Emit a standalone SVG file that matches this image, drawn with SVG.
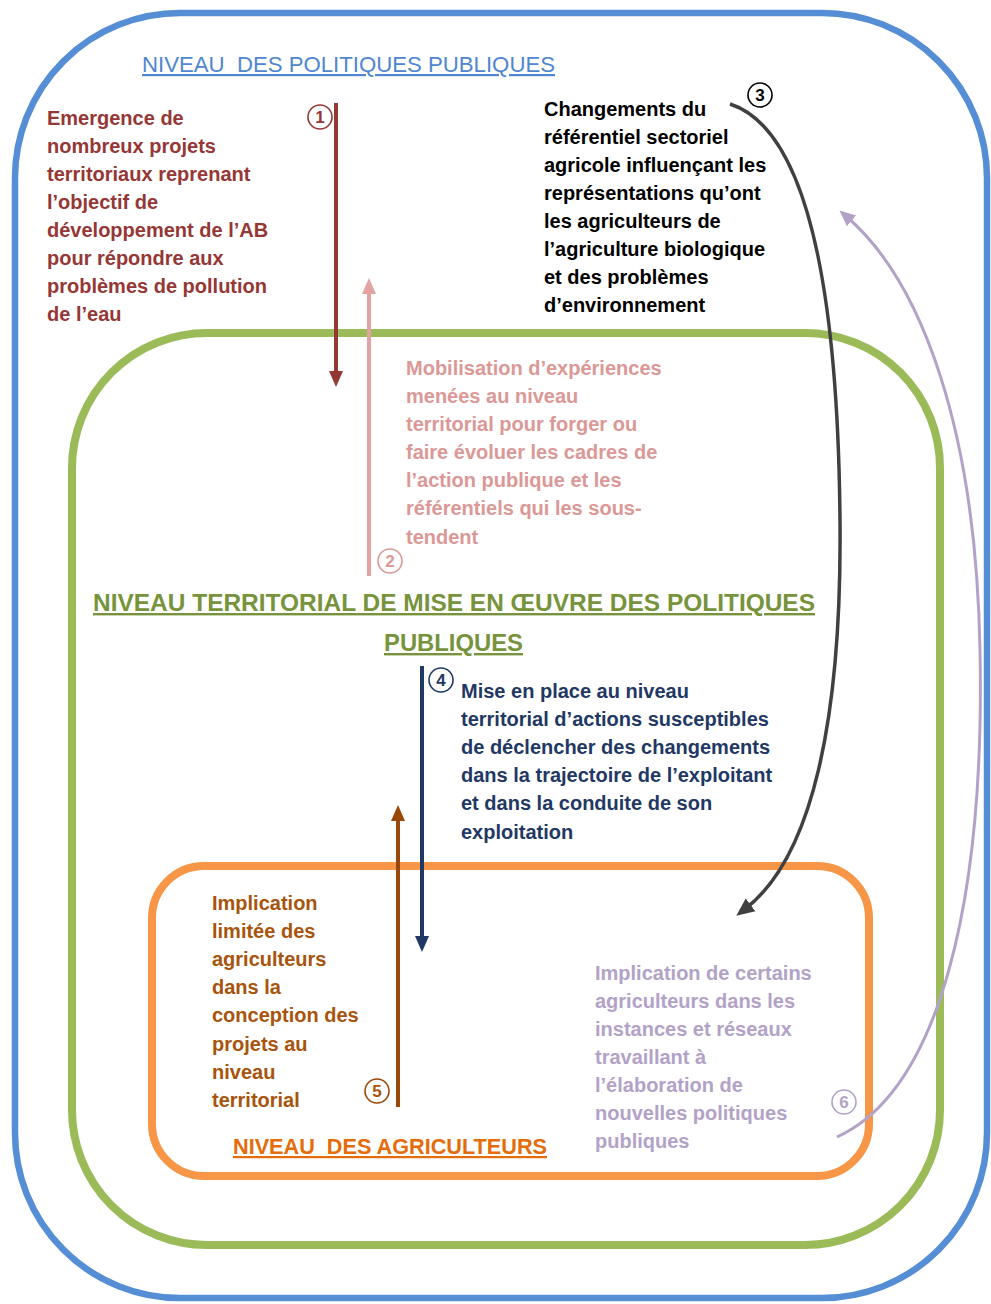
<svg xmlns="http://www.w3.org/2000/svg" width="991" height="1304" viewBox="0 0 991 1304">
<style>
text{font-family:"Liberation Sans",Arial,sans-serif;}
.b{font-weight:bold;font-size:20px;}
.h{text-decoration:underline;white-space:pre;}
.red{fill:#953735;}
.blk{fill:#000000;}
.pink{fill:#DB9896;}
.navy{fill:#1F3864;}
.brown{fill:#A8540C;}
.purple{fill:#B3A2C7;}
.num{font-weight:bold;font-size:17px;text-anchor:middle;}
.ring{fill:#ffffff;stroke-width:1.6;}
</style>
<defs>
<marker id="mRed" markerUnits="userSpaceOnUse" markerWidth="16" markerHeight="16" viewBox="0 0 16 16" refX="6" refY="8" orient="auto"><path d="M0,1 L16,8 L0,15 z" fill="#953735"/></marker>
<marker id="mPink" markerUnits="userSpaceOnUse" markerWidth="16" markerHeight="16" viewBox="0 0 16 16" refX="6" refY="8" orient="auto"><path d="M0,1 L16,8 L0,15 z" fill="#E3A3A2"/></marker>
<marker id="mNavy" markerUnits="userSpaceOnUse" markerWidth="16" markerHeight="16" viewBox="0 0 16 16" refX="6" refY="8" orient="auto"><path d="M0,1 L16,8 L0,15 z" fill="#1F3864"/></marker>
<marker id="mBrown" markerUnits="userSpaceOnUse" markerWidth="16" markerHeight="16" viewBox="0 0 16 16" refX="6" refY="8" orient="auto"><path d="M0,1 L16,8 L0,15 z" fill="#984807"/></marker>
<marker id="mBlack" markerUnits="userSpaceOnUse" markerWidth="18" markerHeight="18" viewBox="0 0 18 18" refX="7" refY="9" orient="auto"><path d="M0,1 L18,9 L0,17 z" fill="#404040"/></marker>
<marker id="mPurple" markerUnits="userSpaceOnUse" markerWidth="16" markerHeight="16" viewBox="0 0 16 16" refX="6" refY="8" orient="auto"><path d="M0,1 L16,8 L0,15 z" fill="#B3A2C7"/></marker>
</defs>
<rect width="991" height="1304" fill="#ffffff"/>

<g id="niveau-politiques">
<rect x="15" y="13" width="972" height="1285" rx="165" ry="165" fill="none" stroke="#558ED5" stroke-width="6.5"/>
<text x="142" y="72" font-size="22" fill="#4F86D0" class="h" textLength="413" lengthAdjust="spacingAndGlyphs">NIVEAU  DES POLITIQUES PUBLIQUES</text>
</g>

<g id="niveau-territorial">
<rect x="72" y="333" width="868" height="912" rx="135" ry="135" fill="none" stroke="#9BBB59" stroke-width="8"/>
<text x="93" y="611" font-size="24" font-weight="bold" fill="#77933C" class="h" textLength="722" lengthAdjust="spacingAndGlyphs">NIVEAU TERRITORIAL DE MISE EN ŒUVRE DES POLITIQUES</text>
<text x="384" y="651" font-size="24" font-weight="bold" fill="#77933C" class="h" textLength="139" lengthAdjust="spacingAndGlyphs">PUBLIQUES</text>
</g>

<g id="niveau-agriculteurs">
<rect x="152" y="866" width="717" height="310" rx="52" ry="52" fill="none" stroke="#F79646" stroke-width="8"/>
<text x="233" y="1154" font-size="22" font-weight="bold" fill="#E46C0A" class="h" textLength="314" lengthAdjust="spacingAndGlyphs">NIVEAU  DES AGRICULTEURS</text>
</g>

<g id="connectors" fill="none">
<line x1="336" y1="103" x2="336" y2="377" stroke="#953735" stroke-width="4" marker-end="url(#mRed)"/>
<line x1="369" y1="576" x2="369" y2="288" stroke="#E3A3A2" stroke-width="4" marker-end="url(#mPink)"/>
<path d="M730,104 C810,130 838,300 840,520 C842,720 812,858 745,909" stroke="#404040" stroke-width="3.5" marker-end="url(#mBlack)"/>
<line x1="422" y1="666" x2="422" y2="942" stroke="#1F3864" stroke-width="4" marker-end="url(#mNavy)"/>
<line x1="398" y1="1107" x2="398" y2="815" stroke="#984807" stroke-width="4" marker-end="url(#mBrown)"/>
<path d="M837,1137 C940,1090 985,900 980,650 C976,430 922,282 847,217" stroke="#B3A2C7" stroke-width="3" marker-end="url(#mPurple)"/>
</g>

<g id="label-1">
<circle cx="320" cy="117" r="12" class="ring" stroke="#953735"/>
<text x="320" y="123" class="num red">1</text>
<text class="b red">
<tspan x="47" y="125">Emergence de</tspan>
<tspan x="47" y="153">nombreux projets</tspan>
<tspan x="47" y="181">territoriaux reprenant</tspan>
<tspan x="47" y="209">l’objectif de</tspan>
<tspan x="47" y="237">développement de l’AB</tspan>
<tspan x="47" y="265">pour répondre aux</tspan>
<tspan x="47" y="293">problèmes de pollution</tspan>
<tspan x="47" y="321">de l’eau</tspan>
</text>
</g>

<g id="label-2">
<circle cx="390" cy="561" r="12" class="ring" stroke="#DB9896"/>
<text x="390" y="567" class="num pink">2</text>
<text class="b pink">
<tspan x="406" y="375">Mobilisation d’expériences</tspan>
<tspan x="406" y="403">menées au niveau</tspan>
<tspan x="406" y="431">territorial pour forger ou</tspan>
<tspan x="406" y="459">faire évoluer les cadres de</tspan>
<tspan x="406" y="487">l’action publique et les</tspan>
<tspan x="406" y="515">référentiels qui les sous-</tspan>
<tspan x="406" y="544">tendent</tspan>
</text>
</g>

<g id="label-3">
<circle cx="760" cy="95" r="12" class="ring" stroke="#000000"/>
<text x="760" y="101" class="num blk">3</text>
<text class="b blk">
<tspan x="544" y="116">Changements du</tspan>
<tspan x="544" y="144">référentiel sectoriel</tspan>
<tspan x="544" y="172">agricole influençant les</tspan>
<tspan x="544" y="200">représentations qu’ont</tspan>
<tspan x="544" y="228">les agriculteurs de</tspan>
<tspan x="544" y="256">l’agriculture biologique</tspan>
<tspan x="544" y="284">et des problèmes</tspan>
<tspan x="544" y="312">d’environnement</tspan>
</text>
</g>

<g id="label-4">
<circle cx="441" cy="680" r="12" class="ring" stroke="#1F3864"/>
<text x="441" y="686" class="num navy">4</text>
<text class="b navy">
<tspan x="461" y="698">Mise en place au niveau</tspan>
<tspan x="461" y="726">territorial d’actions susceptibles</tspan>
<tspan x="461" y="754">de déclencher des changements</tspan>
<tspan x="461" y="782">dans la trajectoire de l’exploitant</tspan>
<tspan x="461" y="810">et dans la conduite de son</tspan>
<tspan x="461" y="839">exploitation</tspan>
</text>
</g>

<g id="label-5">
<circle cx="377" cy="1091" r="12" class="ring" stroke="#984807"/>
<text x="377" y="1097" class="num brown">5</text>
<text class="b brown">
<tspan x="212" y="910">Implication</tspan>
<tspan x="212" y="938">limitée des</tspan>
<tspan x="212" y="966">agriculteurs</tspan>
<tspan x="212" y="994">dans la</tspan>
<tspan x="212" y="1022">conception des</tspan>
<tspan x="212" y="1051">projets au</tspan>
<tspan x="212" y="1079">niveau</tspan>
<tspan x="212" y="1107">territorial</tspan>
</text>
</g>

<g id="label-6">
<circle cx="844" cy="1102" r="12" class="ring" stroke="#B3A2C7"/>
<text x="844" y="1108" class="num purple">6</text>
<text class="b purple">
<tspan x="595" y="980">Implication de certains</tspan>
<tspan x="595" y="1008">agriculteurs dans les</tspan>
<tspan x="595" y="1036">instances et réseaux</tspan>
<tspan x="595" y="1064">travaillant à</tspan>
<tspan x="595" y="1092">l’élaboration de</tspan>
<tspan x="595" y="1120">nouvelles politiques</tspan>
<tspan x="595" y="1148">publiques</tspan>
</text>
</g>
</svg>
